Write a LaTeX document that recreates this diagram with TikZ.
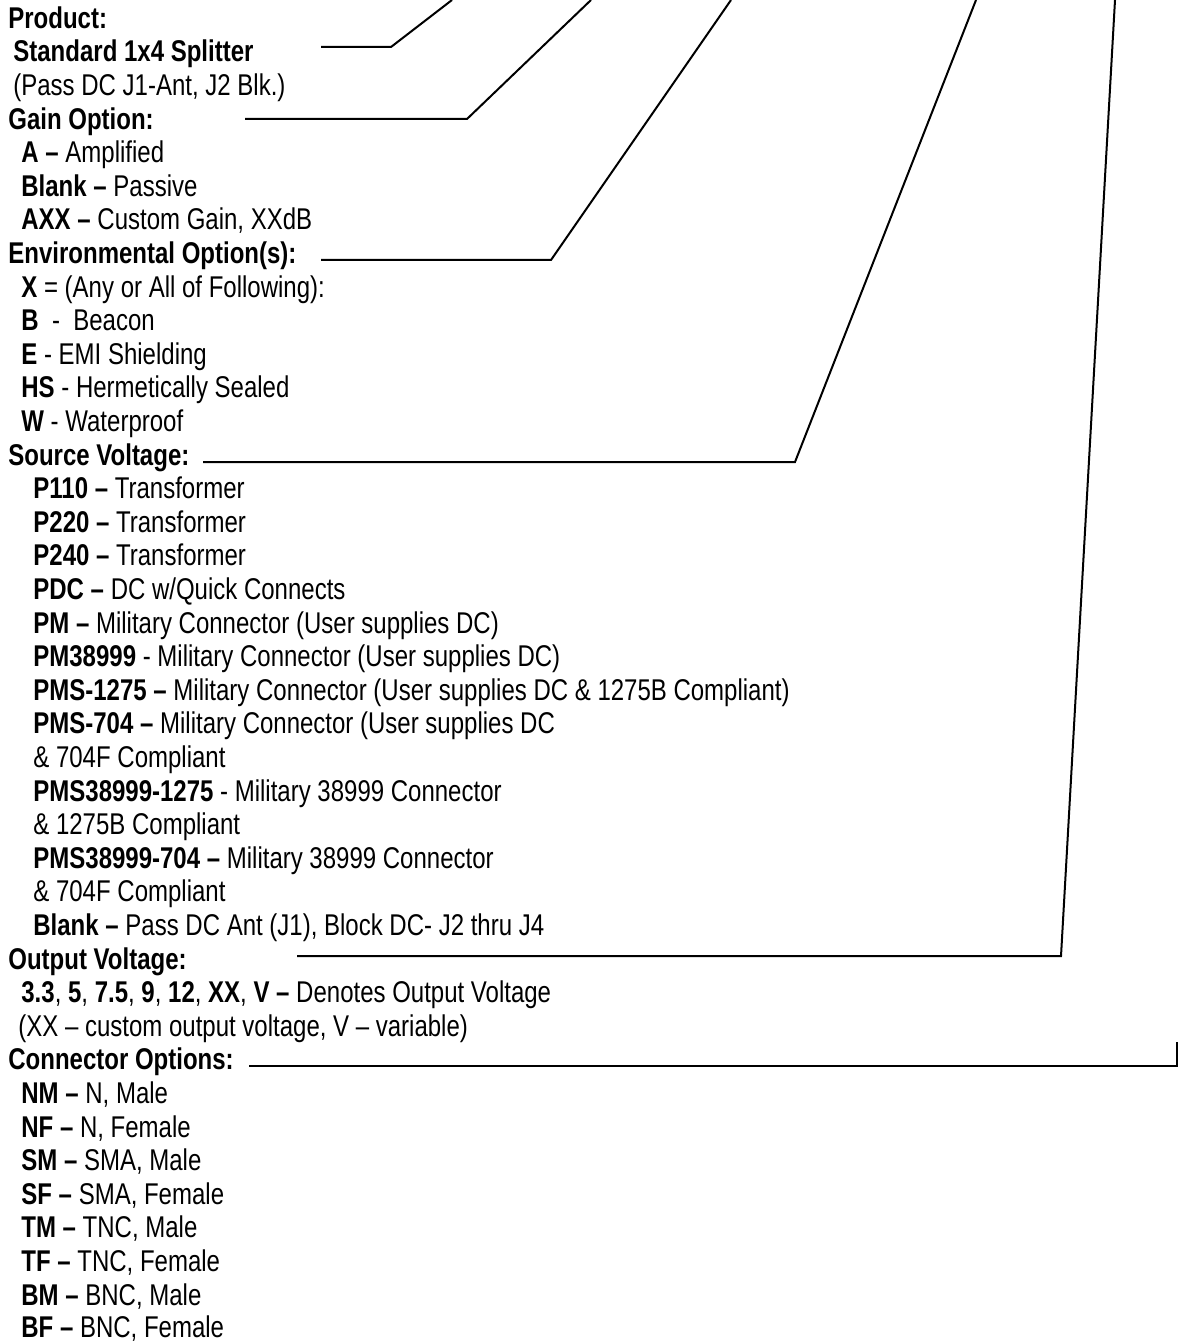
\documentclass[tikz,border=0pt]{standalone}
\usepackage{fontspec}
\setmainfont{Liberation Sans}[FakeStretch=0.80]
\usepackage{tikz}

\begin{document}
\begin{tikzpicture}[x=0.5pt,y=-0.5pt,
	entry/.style={anchor=base west,inner sep=0pt,font=\fontsize{15}{18}\selectfont},
	leader/.style={line width=1pt,line join=miter}]
	\useasboundingbox (0,0) rectangle (1178,1342);

	%% product
	\node [entry] (prod)  at (8,28.3)  {\textbf{Product:}};
	\node [entry] (prodA) at (13,61.9) {\textbf{Standard 1x4 Splitter}};
	\node [entry] (prodB) at (13,95.5) {(Pass DC J1-Ant, J2 Blk.)};

	%% gain
	\node [entry] (gain)  at (8,129.1)  {\textbf{Gain Option:}};
	\node [entry] (gainA) at (21,162.7) {\textbf{A –} Amplified};
	\node [entry] (gainB) at (21,196.3) {\textbf{Blank –} Passive};
	\node [entry] (gainC) at (21,229.9) {\textbf{AXX –} Custom Gain, XXdB};

	%% environmental
	\node [entry] (env)  at (8,263.5)  {\textbf{Environmental Option(s):}};
	\node [entry] (envA) at (21,297.1) {\textbf{X} = (Any or All of Following):};
	\node [entry] (envB) at (21,330.7) {\textbf{B} \ - \ Beacon};
	\node [entry] (envC) at (21,364.3) {\textbf{E} - EMI Shielding};
	\node [entry] (envD) at (21,397.9) {\textbf{HS} - Hermetically Sealed};
	\node [entry] (envE) at (21,431.5) {\textbf{W} - Waterproof};

	%% source voltage
	\node [entry] (src)  at (8,465.1)  {\textbf{Source Voltage:}};
	\node [entry] (srcA) at (33,498.7) {\textbf{P110 –} Transformer};
	\node [entry] (srcB) at (33,532.3) {\textbf{P220 –} Transformer};
	\node [entry] (srcC) at (33,565.9) {\textbf{P240 –} Transformer};
	\node [entry] (srcD) at (33,599.5) {\textbf{PDC –} DC w/Quick Connects};
	\node [entry] (srcE) at (33,633.1) {\textbf{PM –} Military Connector (User supplies DC)};
	\node [entry] (srcF) at (33,666.7) {\textbf{PM38999} - Military Connector (User supplies DC)};
	\node [entry] (srcG) at (33,700.3) {\textbf{PMS-1275 –} Military Connector (User supplies DC \& 1275B Compliant)};
	\node [entry] (srcH) at (33,733.9) {\textbf{PMS-704 –} Military Connector (User supplies DC};
	\node [entry] (srcI) at (33,767.5) {\& 704F Compliant};
	\node [entry] (srcJ) at (33,801.1) {\textbf{PMS38999-1275} - Military 38999 Connector};
	\node [entry] (srcK) at (33,834.7) {\& 1275B Compliant};
	\node [entry] (srcL) at (33,868.3) {\textbf{PMS38999-704 –} Military 38999 Connector};
	\node [entry] (srcM) at (33,901.9) {\& 704F Compliant};
	\node [entry] (srcN) at (33,935.5) {\textbf{Blank –} Pass DC Ant (J1), Block DC- J2 thru J4};

	%% output voltage
	\node [entry] (out)  at (8,969.1)   {\textbf{Output Voltage:}};
	\node [entry] (outA) at (21,1002.7) {\textbf{3.3}, \textbf{5}, \textbf{7.5}, \textbf{9}, \textbf{12}, \textbf{XX}, \textbf{V –} Denotes Output Voltage};
	\node [entry] (outB) at (18,1036.3) {(XX – custom output voltage, V – variable)};

	%% connectors
	\node [entry] (con)  at (8,1069.9)  {\textbf{Connector Options:}};
	\node [entry] (conA) at (21,1103.5) {\textbf{NM –} N, Male};
	\node [entry] (conB) at (21,1137.1) {\textbf{NF –} N, Female};
	\node [entry] (conC) at (21,1170.7) {\textbf{SM –} SMA, Male};
	\node [entry] (conD) at (21,1204.3) {\textbf{SF –} SMA, Female};
	\node [entry] (conE) at (21,1237.9) {\textbf{TM –} TNC, Male};
	\node [entry] (conF) at (21,1271.5) {\textbf{TF –} TNC, Female};
	\node [entry] (conG) at (21,1305.1) {\textbf{BM –} BNC, Male};
	\node [entry] (conH) at (21,1337.2) {\textbf{BF –} BNC, Female};

	%% leader lines up to the part number
	\coordinate (prodS) at (321,47);   \coordinate (prodK) at (391,47);    \coordinate (prodT) at (452,0);
	\coordinate (gainS) at (245,119);  \coordinate (gainK) at (467,119);   \coordinate (gainT) at (591,0);
	\coordinate (envS)  at (321,260);  \coordinate (envK)  at (551,260);   \coordinate (envT)  at (731,0);
	\coordinate (srcS)  at (203,462);  \coordinate (srcK)  at (795,462);   \coordinate (srcT)  at (976,0);
	\coordinate (outS)  at (297,956);  \coordinate (outK)  at (1061,956);  \coordinate (outT)  at (1115,0);
	\coordinate (conS)  at (249,1066); \coordinate (conK)  at (1177,1066); \coordinate (conT)  at (1177,1042);

	\draw [leader] (prodS) -- (prodK) -- (prodT);
	\draw [leader] (gainS) -- (gainK) -- (gainT);
	\draw [leader] (envS) -- (envK) -- (envT);
	\draw [leader] (srcS) -- (srcK) -- (srcT);
	\draw [leader] (outS) -- (outK) -- (outT);
	\draw [leader] (conS) -- (conK) -- (conT);

\end{tikzpicture}
\end{document}
